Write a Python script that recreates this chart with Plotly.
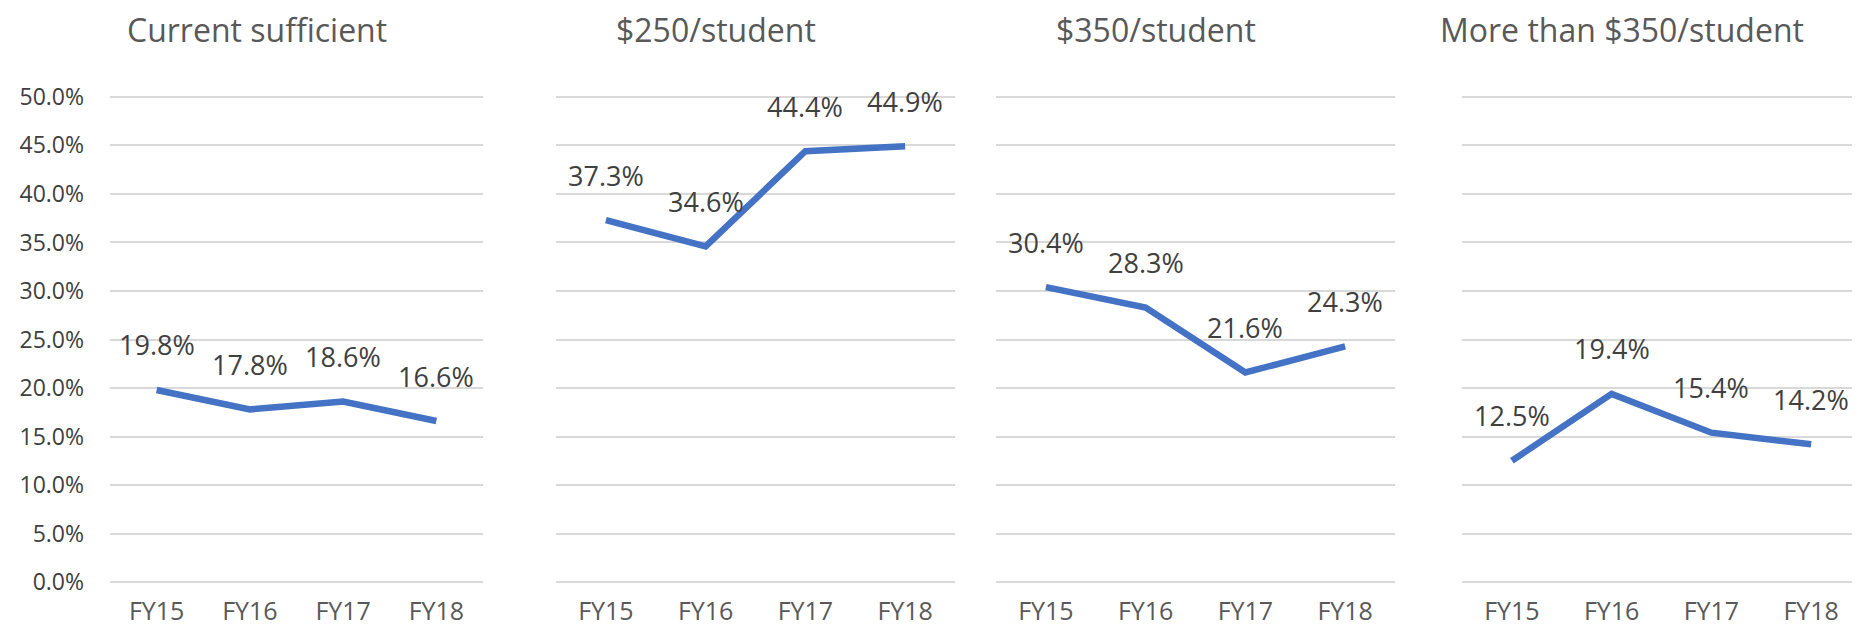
import plotly.graph_objects as go

# ── Datos ───────────────────────────────────────────────────────────────────
years = ['FY15', 'FY16', 'FY17', 'FY18']
panel_titles = ['Current sufficient', '$250/student', '$350/student',
                'More than $350/student']
current_sufficient = [0.198, 0.178, 0.186, 0.166]
per_250 = [0.373, 0.346, 0.444, 0.449]
per_350 = [0.304, 0.283, 0.216, 0.243]
more_than_350 = [0.125, 0.194, 0.154, 0.142]
series = [current_sufficient, per_250, per_350, more_than_350]

# ── Geometría (px) ──────────────────────────────────────────────────────────
W, H = 1860, 629
panels_px = [(102, 475), (548, 947), (988, 1387), (1454, 1853)]
top, bottom = 84, 579          # borde del área de trazado (0% en 574, 50% en 89)
pad = 0.005                     # margen del rango para que se vean las líneas 0% y 50%

LINE_COLOR = '#4472C4'
FONT = 'Open Sans'

fig = go.Figure()
annotations = []

for i, (vals, title, (x0, x1)) in enumerate(zip(series, panel_titles, panels_px)):
    n = '' if i == 0 else str(i + 1)
    xa, ya = 'x' + n, 'y' + n

    fig.add_trace(go.Scatter(
        x=years, y=vals, mode='lines',
        line=dict(color=LINE_COLOR, width=6.5),
        xaxis=xa, yaxis=ya, showlegend=False,
        hovertemplate='%{x}: %{y:.1%}<extra></extra>',
    ))

    # etiquetas de datos encima de cada punto
    for yr, v in zip(years, vals):
        annotations.append(dict(
            x=yr, y=v, xref=xa, yref=ya, text=f'{v * 100:.1f}%',
            showarrow=False, yshift=45,
            font=dict(family=FONT, size=27, color='#404040'),
        ))

    # título del panel
    annotations.append(dict(
        x=((x0 + x1) / 2 - 40) / W, y=(bottom - 21) / (bottom - top),
        xref='paper', yref='paper', text=title, showarrow=False,
        xanchor='center', yanchor='middle',
        font=dict(family=FONT, size=32, color='#595959'),
    ))

    fig.update_layout({
        'xaxis' + n: dict(
            domain=[x0 / W, x1 / W], type='category', range=[-0.5, 3.5],
            showgrid=False, zeroline=False, showline=False,
            ticks='', ticklabelstandoff=7,
            tickfont=dict(family=FONT, size=25, color='#595959'),
            anchor=ya,
        ),
        'yaxis' + n: dict(
            range=[-pad, 0.5 + pad], dtick=0.05, tick0=0, tickformat='.1%',
            showgrid=True, gridcolor='#d9d9d9', gridwidth=1.5,
            zeroline=False, showline=False, ticks='',
            showticklabels=(i == 0), ticklabelstandoff=25,
            tickfont=dict(family=FONT, size=23, color='#404040'),
            anchor=xa,
        ),
    })

fig.update_layout(
    width=W, height=H,
    margin=dict(l=0, r=0, t=top, b=H - bottom),
    plot_bgcolor='white', paper_bgcolor='white',
    annotations=annotations,
)

fig.write_html('out.html')
